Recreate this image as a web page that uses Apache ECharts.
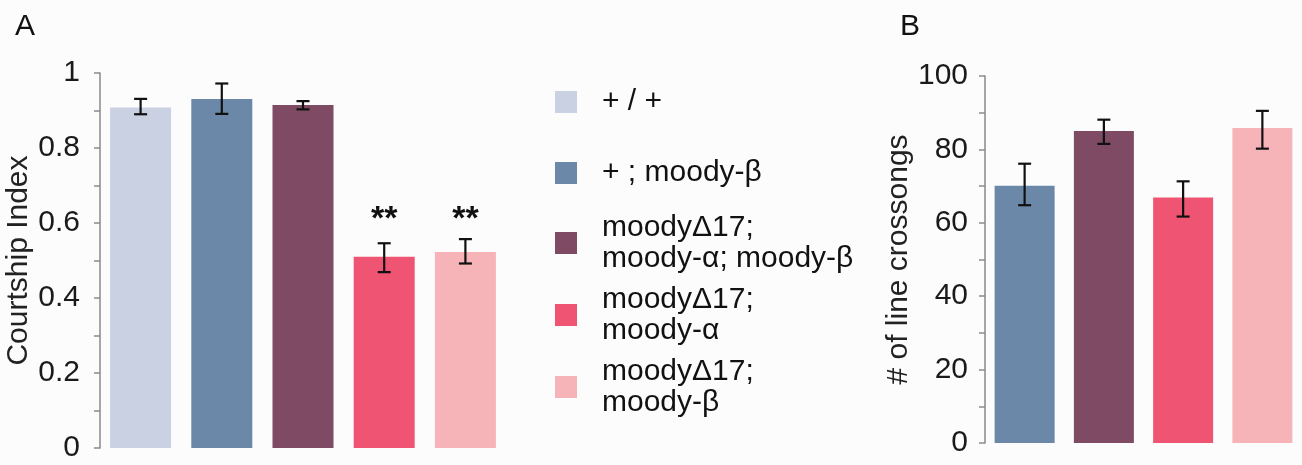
<!DOCTYPE html>
<html>
<head>
<meta charset="utf-8">
<script src="https://cdn.jsdelivr.net/npm/echarts@6/dist/echarts.min.js"></script>
<style>
html,body{margin:0;padding:0;background:#fcfcfd;}
#c{width:1302px;height:465px;}
</style>
</head>
<body>
<div id="c"></div>
<script>
// ---- data ----
const groupNames = ['+ / +', '+ ; moody-\u03B2', 'moody\u039417;\nmoody-\u03B1; moody-\u03B2', 'moody\u039417;\nmoody-\u03B1', 'moody\u039417;\nmoody-\u03B2'];
const groupColors = ['#c9d1e3', '#6b88a8', '#7f4a63', '#ef5573', '#f7b4b8'];

// Panel A: courtship index
const courtshipMean = [0.908, 0.931, 0.915, 0.510, 0.523];
const courtshipLow  = [0.890, 0.891, 0.903, 0.469, 0.492];
const courtshipHigh = [0.931, 0.972, 0.925, 0.546, 0.557];
const courtshipSig  = ['', '', '', '**', '**'];
const sigLevel = 0.61;

// Panel B: line crossings (groups 2..5)
const crossGroups = [1, 2, 3, 4];
const crossMean = [70.1, 85.0, 66.9, 85.8];
const crossLow  = [64.8, 81.5, 61.7, 80.2];
const crossHigh = [76.1, 88.1, 71.3, 90.5];

const FONT = "'Liberation Sans', Arial, Helvetica, sans-serif";

const chart = echarts.init(document.getElementById('c'));

function errRender(params, api) {
  const x = api.value(0), lo = api.value(1), hi = api.value(2);
  const pLo = api.coord([x, lo]), pHi = api.coord([x, hi]);
  const hw = 6.5;
  const st = {stroke: '#111', lineWidth: 2.2};
  return {type: 'group', children: [
    {type: 'line', shape: {x1: pLo[0], y1: pLo[1], x2: pHi[0], y2: pHi[1]}, style: st},
    {type: 'line', shape: {x1: pLo[0] - hw, y1: pLo[1], x2: pLo[0] + hw, y2: pLo[1]}, style: st},
    {type: 'line', shape: {x1: pHi[0] - hw, y1: pHi[1], x2: pHi[0] + hw, y2: pHi[1]}, style: st}
  ]};
}

function sigRender(params, api) {
  const i = api.value(0);
  const p = api.coord([i, sigLevel]);
  return {type: 'text', x: p[0], y: p[1], style: {text: courtshipSig[i], fill: '#111', font: 'bold 34px ' + FONT, align: 'center', verticalAlign: 'middle'}};
}

function yAxisCommon(name, gap, margin) {
  return {
    type: 'value', name: name, nameLocation: 'middle', nameGap: gap,
    nameTextStyle: {fontSize: 30, color: '#222', fontFamily: FONT},
    axisLine: {show: true, lineStyle: {color: '#8a8a8a', width: 1.5}},
    axisTick: {show: true, length: 6, lineStyle: {color: '#8a8a8a', width: 1.5}},
    splitLine: {show: false},
    axisLabel: {fontSize: 30, color: '#1a1a1a', fontFamily: FONT, margin: margin}
  };
}

const series = [];
// Panel A bars: one series per group so legend gets colors
groupNames.forEach((n, g) => {
  const d = courtshipMean.map((v, i) => (i === g ? v : null));
  series.push({type: 'bar', name: n, xAxisIndex: 0, yAxisIndex: 0, data: d, barWidth: 61, barGap: '-100%',
    itemStyle: {color: groupColors[g]}, silent: true});
});
// Panel B bars
crossGroups.forEach((g, k) => {
  const d = crossMean.map((v, i) => (i === k ? v : null));
  series.push({type: 'bar', name: groupNames[g], xAxisIndex: 1, yAxisIndex: 1, data: d, barWidth: 60, barGap: '-100%',
    itemStyle: {color: groupColors[g]}, silent: true});
});
series.push({type: 'custom', xAxisIndex: 0, yAxisIndex: 0, renderItem: errRender, z: 10,
  data: courtshipMean.map((v, i) => [i, courtshipLow[i], courtshipHigh[i]]), encode: {x: 0, y: [1, 2]}});
series.push({type: 'custom', xAxisIndex: 1, yAxisIndex: 1, renderItem: errRender, z: 10,
  data: crossMean.map((v, i) => [i, crossLow[i], crossHigh[i]]), encode: {x: 0, y: [1, 2]}});
series.push({type: 'custom', xAxisIndex: 0, yAxisIndex: 0, renderItem: sigRender, z: 10,
  data: courtshipSig.map((s, i) => [i, sigLevel]), encode: {x: 0, y: 1}});

const legendCenters = [102, 173, 243, 315, 387];
const legends = groupNames.map((n, g) => {
  const lines = n.split('\n').length;
  const h = lines * 31;
  return {
    data: [n], orient: 'vertical', left: 555, top: legendCenters[g] - h / 2, padding: 0,
    itemWidth: 22, itemHeight: 22, icon: 'rect', selectedMode: false,
    textStyle: {fontSize: 30, color: '#111', fontFamily: FONT, lineHeight: 31, padding: [0, 0, 0, 20]}
  };
});

const yA = yAxisCommon('Courtship Index', 66, 20);
Object.assign(yA, {gridIndex: 0, min: 0, max: 1, interval: 0.1});
yA.axisLabel.formatter = v => { const r = Math.round(v * 10); return r % 2 === 0 ? String(r / 10) : ''; };
const yB = yAxisCommon('# of line crossongs', 67, 17);
Object.assign(yB, {gridIndex: 1, min: 0, max: 100, interval: 10});
yB.axisLabel.formatter = v => { const r = Math.round(v); return r % 20 === 0 ? String(r) : ''; };

chart.setOption({
  backgroundColor: '#fcfcfd',
  animation: false,
  title: [
    {text: 'A', left: 10, top: 7, textStyle: {fontSize: 30, fontWeight: 'normal', color: '#111', fontFamily: FONT}},
    {text: 'B', left: 895, top: 7, textStyle: {fontSize: 30, fontWeight: 'normal', color: '#111', fontFamily: FONT}}
  ],
  legend: legends,
  grid: [
    {left: 100, top: 73, width: 406, height: 375, containLabel: false},
    {left: 985, top: 76, width: 323, height: 367, containLabel: false}
  ],
  xAxis: [
    {type: 'category', gridIndex: 0, data: groupNames, show: false},
    {type: 'category', gridIndex: 1, data: crossGroups.map(g => groupNames[g]), show: false}
  ],
  yAxis: [yA, yB],
  series: series
});
</script>
</body>
</html>
